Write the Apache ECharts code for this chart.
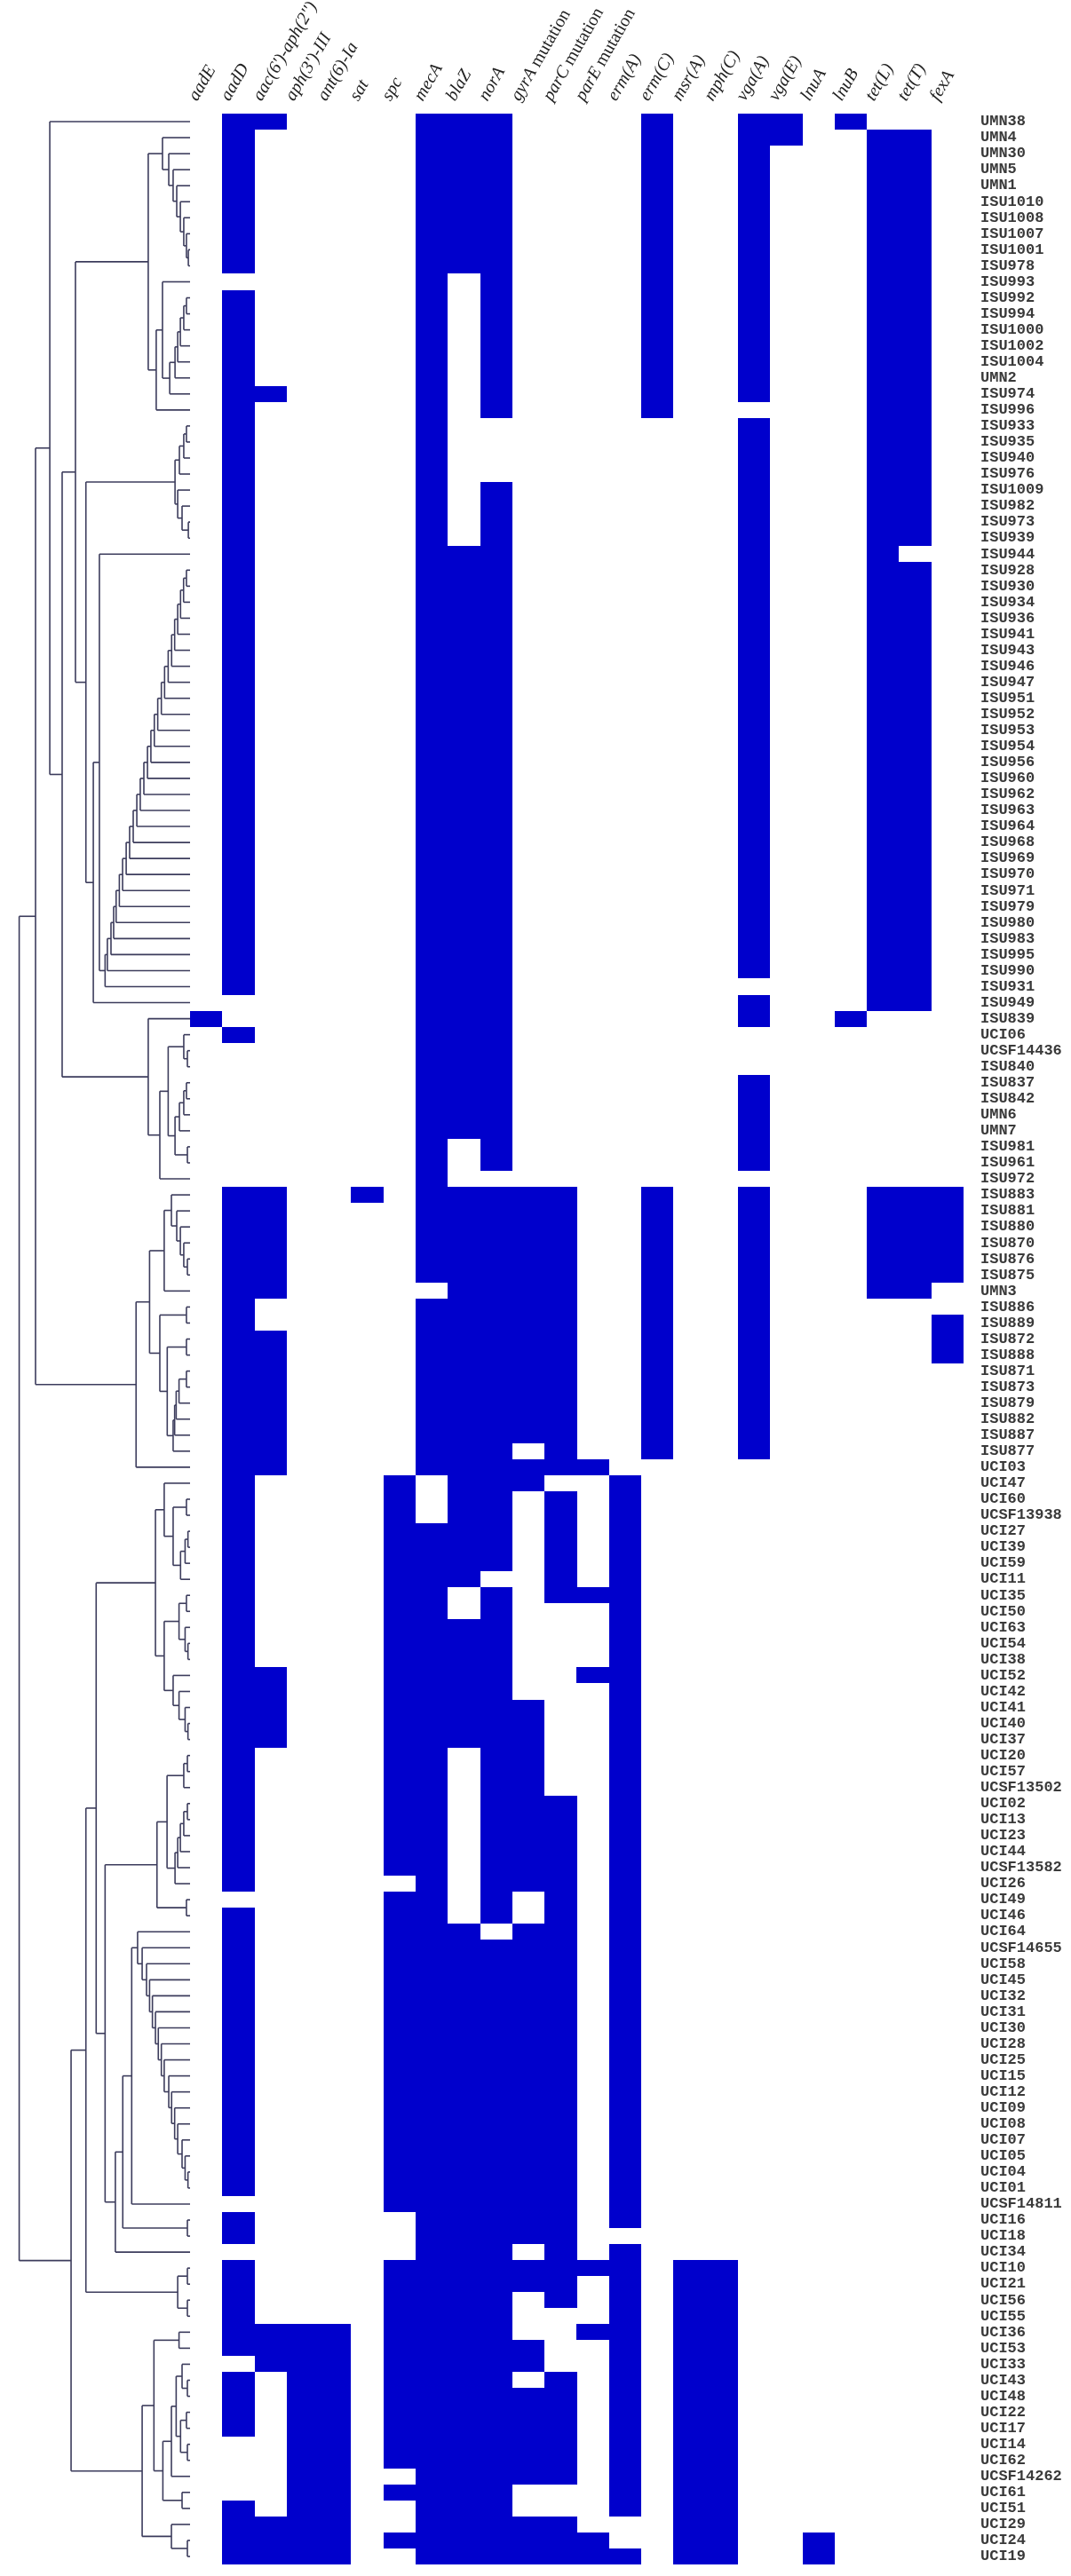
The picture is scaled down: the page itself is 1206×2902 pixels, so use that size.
<!DOCTYPE html>
<html>
<head>
<meta charset="utf-8">
<script src="https://cdn.jsdelivr.net/npm/echarts@6/dist/echarts.min.js"></script>
<style>
  html, body { margin: 0; background: #fff; }
  #main { width: 1206px; height: 2902px; }
</style>
</head>
<body>
<div id="main"></div>
<script>
// gene columns (header)
var genes = ['aadE', 'aadD', "aac(6')-aph(2'')", "aph(3')-III", 'ant(6)-Ia', 'sat', 'spc',
  'mecA', 'blaZ', 'norA', 'gyrA mutation', 'parC mutation', 'parE mutation', 'erm(A)', 'erm(C)',
  'msr(A)', 'mph(C)', 'vga(A)', 'vga(E)', 'lnuA', 'lnuB', 'tet(L)', 'tet(T)', 'fexA'];

// isolates, top to bottom
var isolates = ['UMN38', 'UMN4', 'UMN30', 'UMN5', 'UMN1', 'ISU1010', 'ISU1008', 'ISU1007', 'ISU1001', 'ISU978',
  'ISU993', 'ISU992', 'ISU994', 'ISU1000', 'ISU1002', 'ISU1004', 'UMN2', 'ISU974', 'ISU996', 'ISU933',
  'ISU935', 'ISU940', 'ISU976', 'ISU1009', 'ISU982', 'ISU973', 'ISU939', 'ISU944', 'ISU928', 'ISU930',
  'ISU934', 'ISU936', 'ISU941', 'ISU943', 'ISU946', 'ISU947', 'ISU951', 'ISU952', 'ISU953', 'ISU954',
  'ISU956', 'ISU960', 'ISU962', 'ISU963', 'ISU964', 'ISU968', 'ISU969', 'ISU970', 'ISU971', 'ISU979',
  'ISU980', 'ISU983', 'ISU995', 'ISU990', 'ISU931', 'ISU949', 'ISU839', 'UCI06', 'UCSF14436', 'ISU840',
  'ISU837', 'ISU842', 'UMN6', 'UMN7', 'ISU981', 'ISU961', 'ISU972', 'ISU883', 'ISU881', 'ISU880',
  'ISU870', 'ISU876', 'ISU875', 'UMN3', 'ISU886', 'ISU889', 'ISU872', 'ISU888', 'ISU871', 'ISU873',
  'ISU879', 'ISU882', 'ISU887', 'ISU877', 'UCI03', 'UCI47', 'UCI60', 'UCSF13938', 'UCI27', 'UCI39',
  'UCI59', 'UCI11', 'UCI35', 'UCI50', 'UCI63', 'UCI54', 'UCI38', 'UCI52', 'UCI42', 'UCI41',
  'UCI40', 'UCI37', 'UCI20', 'UCI57', 'UCSF13502', 'UCI02', 'UCI13', 'UCI23', 'UCI44', 'UCSF13582',
  'UCI26', 'UCI49', 'UCI46', 'UCI64', 'UCSF14655', 'UCI58', 'UCI45', 'UCI32', 'UCI31', 'UCI30',
  'UCI28', 'UCI25', 'UCI15', 'UCI12', 'UCI09', 'UCI08', 'UCI07', 'UCI05', 'UCI04', 'UCI01',
  'UCSF14811', 'UCI16', 'UCI18', 'UCI34', 'UCI10', 'UCI21', 'UCI56', 'UCI55', 'UCI36', 'UCI53',
  'UCI33', 'UCI43', 'UCI48', 'UCI22', 'UCI17', 'UCI14', 'UCI62', 'UCSF14262', 'UCI61', 'UCI51',
  'UCI29', 'UCI24', 'UCI19'];

// gene present: runs of rows [first, last] (1-based), one list per gene
var presence = [
  [[57, 57]],
  [[1, 10], [12, 55], [58, 58], [68, 111], [113, 130], [132, 133], [135, 140], [142, 145], [150, 153]],
  [[1, 1], [18, 18], [68, 74], [77, 85], [98, 102], [139, 141], [151, 153]],
  [[139, 153]],
  [[139, 153]],
  [[68, 68]],
  [[86, 110], [112, 131], [135, 147], [149, 149], [152, 152]],
  [[1, 73], [75, 85], [89, 153]],
  [[1, 10], [28, 64], [68, 92], [95, 102], [114, 153]],
  [[1, 19], [24, 66], [68, 91], [93, 113], [115, 153]],
  [[68, 83], [85, 86], [100, 111], [114, 133], [135, 136], [140, 141], [143, 148], [151, 153]],
  [[68, 85], [87, 93], [106, 137], [142, 148], [151, 153]],
  [[85, 85], [93, 93], [98, 98], [135, 135], [139, 139], [152, 153]],
  [[86, 132], [134, 150], [153, 153]],
  [[1, 19], [68, 84]],
  [[135, 153]],
  [[135, 153]],
  [[1, 18], [20, 54], [56, 57], [61, 66], [68, 84]],
  [[1, 2]],
  [[152, 153]],
  [[1, 1], [57, 57]],
  [[2, 56], [68, 74]],
  [[2, 27], [29, 56], [68, 74]],
  [[68, 73], [76, 78]]
];

// dendrogram merges: [id, left, right, height]; numbers are rows, strings earlier merges
var merges = [
  ['j8', 9, 10, 0.009], ['j7', 8, 'j8', 0.019], ['j6', 7, 'j7', 0.033], ['j5', 6, 'j6', 0.051],
  ['j4', 5, 'j5', 0.070], ['j3', 4, 'j4', 0.089], ['j2', 3, 'j3', 0.112], ['J', 2, 'j2', 0.145],
  ['q1', 12, 13, 0.019], ['q2', 'q1', 14, 0.033], ['q3', 'q2', 15, 0.051], ['q4', 'q3', 16, 0.065],
  ['N', 'q4', 17, 0.079], ['M', 'N', 18, 0.107], ['L', 11, 'M', 0.145], ['K', 'L', 19, 0.178],
  ['H', 'J', 'K', 0.220],
  ['s1', 20, 21, 0.019], ['s2', 's1', 22, 0.033], ['s3', 's2', 23, 0.056],
  ['s4', 26, 27, 0.009], ['s5', 25, 's4', 0.042], ['s6', 24, 's5', 0.065], ['S', 's3', 's6', 0.079],
  ['v30', 29, 30, 0.019], ['v31', 'v30', 31, 0.034], ['v32', 'v31', 32, 0.050], ['v33', 'v32', 33, 0.065],
  ['v34', 'v33', 34, 0.081], ['v35', 'v34', 35, 0.097], ['v36', 'v35', 36, 0.115], ['v37', 'v36', 37, 0.134],
  ['v38', 'v37', 38, 0.151], ['v39', 'v38', 39, 0.170], ['v40', 'v39', 40, 0.188], ['v41', 'v40', 41, 0.206],
  ['v42', 'v41', 42, 0.224], ['v43', 'v42', 43, 0.243], ['v44', 'v43', 44, 0.262], ['v45', 'v44', 45, 0.280],
  ['v46', 'v45', 46, 0.299], ['v47', 'v46', 47, 0.318], ['v48', 'v47', 48, 0.336], ['v49', 'v48', 49, 0.355],
  ['v50', 'v49', 50, 0.372], ['v51', 'v50', 51, 0.389], ['v52', 'v51', 52, 0.402], ['v53', 'v52', 53, 0.416],
  ['v54', 'v53', 54, 0.435], ['v55', 'v54', 55, 0.447],
  ['U', 28, 'v55', 0.477], ['T', 'U', 56, 0.509], ['I', 'S', 'T', 0.548], ['C', 'H', 'I', 0.603],
  ['x1', 59, 60, 0.014], ['X', 58, 'x1', 0.033],
  ['z1', 61, 62, 0.019], ['z2', 'z1', 63, 0.033], ['z3', 'z2', 64, 0.056], ['y1', 65, 66, 0.014],
  ['Y', 'z3', 'y1', 0.079], ['W', 'X', 'Y', 0.115], ['V', 'W', 67, 0.159], ['D', 57, 'V', 0.220],
  ['B', 'C', 'D', 0.673], ['A', 1, 'B', 0.738],
  ['ad4', 72, 73, 0.014], ['ad3', 71, 'ad4', 0.033], ['ad2', 70, 'ad3', 0.051], ['ad1', 69, 'ad2', 0.070],
  ['AD', 68, 'ad1', 0.098], ['AB', 'AD', 74, 0.136], ['AE', 75, 76, 0.019],
  ['af1', 79, 80, 0.019], ['af2', 'af1', 81, 0.058], ['af3', 'af2', 82, 0.073], ['af4', 'af3', 83, 0.081],
  ['af5', 'af4', 84, 0.089], ['af6', 77, 78, 0.019], ['AF', 'af6', 'af5', 0.120],
  ['AC', 'AE', 'AF', 0.159], ['AA', 'AB', 'AC', 0.213], ['G', 'AA', 85, 0.284],
  ['E', 'A', 'G', 0.813],
  ['y87', 87, 88, 0.019], ['z89', 89, 90, 0.011], ['z91', 'z89', 91, 0.026], ['Zb', 'z91', 92, 0.050],
  ['Yb', 'y87', 'Zb', 0.089], ['FL1', 86, 'Yb', 0.136],
  ['w93', 93, 94, 0.019], ['w96', 96, 97, 0.011], ['w95', 95, 'w96', 0.026], ['wa', 'w93', 'w95', 0.058],
  ['w101', 101, 102, 0.011], ['w100', 100, 'w101', 0.026], ['w99', 99, 'w100', 0.058], ['wb', 98, 'w99', 0.089],
  ['FL2', 'wa', 'wb', 0.136], ['FL', 'FL1', 'FL2', 0.182],
  ['n1', 103, 104, 0.014], ['n2', 'n1', 105, 0.033], ['n3', 106, 107, 0.014], ['n4', 'n3', 108, 0.033],
  ['n5', 'n4', 109, 0.051], ['n6', 'n5', 110, 0.065], ['n7', 'n6', 111, 0.079], ['n8', 'n2', 'n7', 0.121],
  ['n9', 112, 113, 0.019], ['FN', 'n8', 'n9', 0.174],
  ['o129', 129, 130, 0.011], ['o128', 128, 'o129', 0.026], ['o127', 127, 'o128', 0.042],
  ['o126', 126, 'o127', 0.065], ['o125', 125, 'o126', 0.081], ['o124', 124, 'o125', 0.097],
  ['o123', 123, 'o124', 0.112], ['o122', 122, 'o123', 0.136], ['o121', 121, 'o122', 0.151],
  ['o120', 120, 'o121', 0.167], ['o119', 119, 'o120', 0.182], ['o118', 118, 'o119', 0.198],
  ['o117', 117, 'o118', 0.213], ['o116', 116, 'o117', 0.229], ['o115', 115, 'o116', 0.252],
  ['o114', 114, 'o115', 0.276], ['o445', 'o114', 131, 0.307], ['o132', 132, 133, 0.014],
  ['o415', 'o445', 'o132', 0.354], ['FO', 'o415', 134, 0.393],
  ['FM', 'FN', 'FO', 0.447], ['FC', 'FL', 'FM', 0.494],
  ['d1', 135, 136, 0.014], ['d2', 137, 138, 0.014], ['FD', 'd1', 'd2', 0.065],
  ['FA', 'FC', 'FD', 0.548],
  ['FG', 139, 140, 0.058],
  ['fk1', 142, 143, 0.014], ['fk2', 141, 'fk1', 0.042], ['fk3', 144, 145, 0.019], ['fk4', 146, 147, 0.014],
  ['fk5', 'fk3', 'fk4', 0.050], ['FK', 'fk2', 'fk5', 0.073], ['FI', 'FK', 148, 0.098],
  ['FJ', 149, 150, 0.042], ['FH', 'FI', 'FJ', 0.143], ['FE', 'FG', 'FH', 0.190],
  ['ff1', 152, 153, 0.014], ['FF', 151, 'ff1', 0.098], ['FB', 'FE', 'FF', 0.252],
  ['F', 'FA', 'FB', 0.626],
  ['root', 'E', 'F', 0.899]
];

var BLUE = '#0000cc';
var LINE = '#3c3c5c';

// heatmap cells [geneIndex, rowIndex]
var cells = [];
presence.forEach(function (runs, g) {
  runs.forEach(function (run) {
    for (var r = run[0]; r <= run[1]; r++) cells.push([g, r - 1]);
  });
});

// dendrogram segments [h1, y1, h2, y2]
var nodes = {};
function getNode(k) {
  if (typeof k === 'number') return { h: 0, y: k - 1 };
  return nodes[k];
}
var segs = [];
merges.forEach(function (m) {
  var a = getNode(m[1]), b = getNode(m[2]), h = m[3];
  segs.push([h, a.y, h, b.y]);
  segs.push([h, a.y, a.h, a.y]);
  segs.push([h, b.y, b.h, b.y]);
  nodes[m[0]] = { h: h, y: (a.y + b.y) / 2 };
});

var chart = echarts.init(document.getElementById('main'));

var TOP = 128, HEIGHT = 2761;

chart.setOption({
  backgroundColor: '#fff',
  animation: false,
  grid: [
    { left: 0, top: TOP, width: 214, height: HEIGHT },
    { left: 214, top: TOP, width: 871, height: HEIGHT }
  ],
  xAxis: [
    { gridIndex: 0, type: 'value', min: 0, max: 1, inverse: true, show: false },
    {
      gridIndex: 1, type: 'category', data: genes, position: 'top',
      axisLine: { show: false }, axisTick: { show: false }, splitLine: { show: false },
      axisLabel: { show: false }
    }
  ],
  yAxis: [
    { gridIndex: 0, type: 'value', min: -0.5, max: 152.5, inverse: true, show: false },
    {
      gridIndex: 1, type: 'category', data: isolates, inverse: true, position: 'right',
      axisLine: { show: false }, axisTick: { show: false }, splitLine: { show: false },
      axisLabel: {
        interval: 0, margin: 19,
        fontFamily: 'Liberation Mono', fontWeight: 'bold', fontSize: 17, color: '#3a3a3a'
      }
    }
  ],
  series: [
    {
      type: 'custom',
      xAxisIndex: 0, yAxisIndex: 0,
      data: segs,
      encode: { x: [0, 2], y: [1, 3] },
      clip: false,
      renderItem: function (params, api) {
        var p1 = api.coord([api.value(0), api.value(1)]);
        var p2 = api.coord([api.value(2), api.value(3)]);
        return {
          type: 'line',
          shape: { x1: p1[0], y1: p1[1], x2: p2[0], y2: p2[1] },
          style: { stroke: LINE, lineWidth: 1.6 }
        };
      }
    },
    {
      type: 'custom',
      xAxisIndex: 1, yAxisIndex: 1,
      data: cells,
      encode: { x: 0, y: 1 },
      renderItem: function (params, api) {
        var c = api.coord([api.value(0), api.value(1)]);
        var s = api.size([1, 1]);
        var x0 = Math.round(c[0] - s[0] / 2), x1 = Math.round(c[0] + s[0] / 2);
        var y0 = Math.round(c[1] - s[1] / 2), y1 = Math.round(c[1] + s[1] / 2);
        return {
          type: 'rect',
          shape: { x: x0, y: y0, width: x1 - x0, height: y1 - y0 },
          style: { fill: BLUE }
        };
      }
    }
  ]
});

// rotated gene names above the columns: gene italic, the word "mutation" upright
var FONT = '"Liberation Serif"';
var ctx = document.createElement('canvas').getContext('2d');
ctx.font = 'italic 20px ' + FONT;
var headers = genes.map(function (g) {
  var x = chart.convertToPixel({ xAxisIndex: 1 }, g);
  var p = g.split(' ');
  var kids = [{
    type: 'text', x: 0, y: 0,
    style: { text: p[0], font: 'italic 20px ' + FONT, align: 'left', verticalAlign: 'bottom', fill: '#222' }
  }];
  if (p.length > 1) {
    kids.push({
      type: 'text', x: ctx.measureText(p[0] + ' ').width, y: 0,
      style: { text: p[1], font: '20px ' + FONT, align: 'left', verticalAlign: 'bottom', fill: '#222' }
    });
  }
  return { type: 'group', x: x - 6, y: TOP - 11, rotation: 60 * Math.PI / 180, children: kids };
});
chart.setOption({ graphic: headers });
</script>
</body>
</html>
